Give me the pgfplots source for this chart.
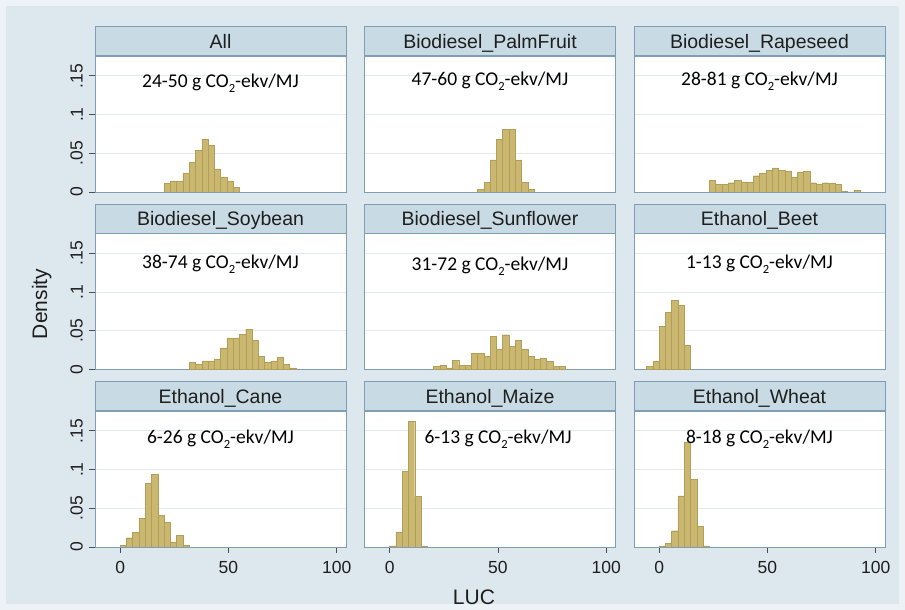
\documentclass[border=0pt]{standalone}
\usepackage{pgfplots}
\pgfplotsset{compat=1.18}
\usepackage{fontspec}
\setmainfont{Liberation Sans}
\newfontfamily\carlito{Carlito}
\definecolor{bgout}{RGB}{236,242,245}
\definecolor{bgin}{RGB}{221,232,238}
\definecolor{stripc}{RGB}{200,219,228}
\definecolor{framec}{RGB}{128,157,182}
\definecolor{barc}{RGB}{203,184,112}
\definecolor{baredge}{RGB}{178,158,88}
\definecolor{gridc}{RGB}{226,234,239}
\definecolor{tickc}{RGB}{70,78,86}
\definecolor{txtc}{RGB}{30,30,30}

\pgfplotsset{
 every axis title shift=0pt,
 panel/.style={
  scale only axis, width=251pt, height=136pt,
  xmin=-11.6, xmax=104.3, ymin=0, ymax=0.1757,
  axis background/.style={fill=white},
  axis line style={draw=framec, line width=0.9pt},
  ytick={0,0.05,0.1,0.15}, xtick={0,50,100},
  ymajorgrids, grid style={draw=gridc, line width=0.9pt},
  tick align=outside, major tick length=6pt,
  xtick pos=lower, ytick pos=lower,
  tick style={draw=tickc, line width=0.8pt},
  xticklabels={}, yticklabels={},
  title style={at={(0.5,1)}, anchor=south, fill=stripc, draw=framec, line width=0.9pt,
    minimum width=251pt, minimum height=29pt, inner sep=0pt, text height=18pt, text depth=4pt,
    font=\fontsize{19.5}{22}\selectfont, text=txtc},
 },
 leftcol/.style={yticklabels={0,.05,.1,.15},
   yticklabel style={xshift=-2.7pt, rotate=90, anchor=south, font=\fontsize{17.5}{20}\selectfont, text=txtc}},
 notleft/.style={ytick style={draw=none}},
 bottomrow/.style={xticklabels={0,50,100},
   xticklabel style={yshift=-5pt, font=\fontsize{17.5}{20}\selectfont, text=txtc}},
 notbottom/.style={xtick style={draw=none}},
 hist/.style={ybar interval, fill=barc, draw=baredge, line width=0.4pt},
}
\newcommand{\annt}[3]{\node[anchor=base, font=\carlito\fontsize{19.5}{22}\selectfont, text=black] at (rel axis cs:#1,#2) {#3 g CO\raisebox{-0.28em}{\fontsize{12.5}{12.5}\selectfont 2}-ekv/MJ};}

\begin{document}
\begin{tikzpicture}[x=1pt,y=1pt]
\fill[bgout] (0pt,0pt) rectangle (905pt,610pt);
\fill[bgin] (6pt,6pt) rectangle (899pt,604pt);

% Row 1
\begin{axis}[panel, leftcol, notbottom, at={(95pt,418pt)}, anchor=south west, title={All}]
\addplot[hist] coordinates {(20.3,0.0114)(23.2,0.0144)(26.1,0.0144)(29.0,0.0246)(31.9,0.0386)(34.8,0.054)(37.7,0.068)(40.6,0.060)(43.5,0.030)(46.4,0.019)(49.3,0.0144)(52.2,0.006)(55.1,0)};
\annt{0.5}{0.77}{24-50}
\end{axis}
\begin{axis}[panel, notleft, notbottom, at={(364.5pt,418pt)}, anchor=south west, title={Biodiesel\_PalmFruit}]
\addplot[hist] coordinates {(40.6,0.003)(43.5,0.0127)(46.4,0.0415)(49.3,0.068)(52.2,0.081)(55.1,0.081)(58.0,0.0415)(60.9,0.0127)(63.8,0.003)(66.7,0)};
\annt{0.5}{0.785}{47-60}
\end{axis}
\begin{axis}[panel, notleft, notbottom, at={(634pt,418pt)}, anchor=south west, title={Biodiesel\_Rapeseed}]
\addplot[hist] coordinates {(23.2,0.0146)(26.1,0.0099)(29.0,0.0099)(31.9,0.012)(34.8,0.0146)(37.7,0.013)(40.6,0.0125)(43.5,0.021)(46.4,0.024)(49.3,0.0276)(52.2,0.031)(55.1,0.0284)(58.0,0.0267)(60.9,0.019)(63.8,0.025)(66.7,0.0271)(69.6,0.012)(72.5,0.0099)(75.4,0.012)(78.3,0.011)(81.2,0.0095)(84.1,0.0012)(87.0,0)(89.9,0.0025)(92.8,0)};
\annt{0.5}{0.785}{28-81}
\end{axis}

% Row 2
\begin{axis}[panel, leftcol, notbottom, at={(95pt,240.5pt)}, anchor=south west, title={Biodiesel\_Soybean}]
\addplot[hist] coordinates {(31.9,0.0095)(34.8,0.0065)(37.7,0.0112)(40.6,0.0112)(43.5,0.0138)(46.4,0.028)(49.3,0.041)(52.2,0.041)(55.1,0.045)(58.0,0.052)(60.9,0.038)(63.8,0.017)(66.7,0.0095)(69.6,0.0112)(72.5,0.0164)(75.4,0.0065)(78.3,0.002)(81.2,0)};
\annt{0.5}{0.745}{38-74}
\end{axis}
\begin{axis}[panel, notleft, notbottom, at={(364.5pt,240.5pt)}, anchor=south west, title={Biodiesel\_Sunflower}]
\addplot[hist] coordinates {(20.3,0.0043)(23.2,0.0056)(26.1,0.002)(29.0,0.012)(31.9,0.0056)(34.8,0.0056)(37.7,0.0205)(40.6,0.0205)(43.5,0.017)(46.4,0.0427)(49.3,0.0256)(52.2,0.0449)(55.1,0.030)(58.0,0.0376)(60.9,0.0265)(63.8,0.017)(66.7,0.0128)(69.6,0.015)(72.5,0.0107)(75.4,0.0043)(78.3,0.0043)(81.2,0)};
\annt{0.5}{0.73}{31-72}
\end{axis}
\begin{axis}[panel, notleft, notbottom, at={(634pt,240.5pt)}, anchor=south west, title={Ethanol\_Beet}]
\addplot[hist] coordinates {(-5.8,0.004)(-2.9,0.0107)(0,0.0556)(2.9,0.074)(5.8,0.089)(8.7,0.083)(11.6,0.031)(14.5,0)};
\annt{0.5}{0.745}{1-13}
\end{axis}

% Row 3
\begin{axis}[panel, leftcol, bottomrow, at={(95pt,63pt)}, anchor=south west, title={Ethanol\_Cane}]
\addplot[hist] coordinates {(0,0.002)(2.9,0.012)(5.8,0.0187)(8.7,0.037)(11.6,0.0826)(14.5,0.0935)(17.4,0.041)(20.3,0.0317)(23.2,0.0065)(26.1,0.0152)(29.0,0.002)(31.9,0)};
\annt{0.5}{0.763}{6-26}
\end{axis}
\begin{axis}[panel, notleft, bottomrow, at={(364.5pt,63pt)}, anchor=south west, title={Ethanol\_Maize}]
\addplot[hist] coordinates {(0,0.0013)(2.9,0.0196)(5.8,0.098)(8.7,0.162)(11.6,0.065)(14.5,0.0013)(17.4,0)};
\annt{0.532}{0.763}{6-13}
\end{axis}
\begin{axis}[panel, notleft, bottomrow, at={(634pt,63pt)}, anchor=south west, title={Ethanol\_Wheat}]
\addplot[hist] coordinates {(0,0.0013)(2.9,0.005)(5.8,0.021)(8.7,0.066)(11.6,0.1357)(14.5,0.087)(17.4,0.0274)(20.3,0.0013)(23.2,0)};
\annt{0.5}{0.763}{8-18}
\end{axis}

\node[rotate=90, anchor=base, font=\fontsize{21}{24}\selectfont, text=txtc] at (47pt,306pt) {Density};
\node[anchor=base, font=\fontsize{21}{24}\selectfont, text=txtc] at (474pt,5pt) {LUC};
\end{tikzpicture}
\end{document}
